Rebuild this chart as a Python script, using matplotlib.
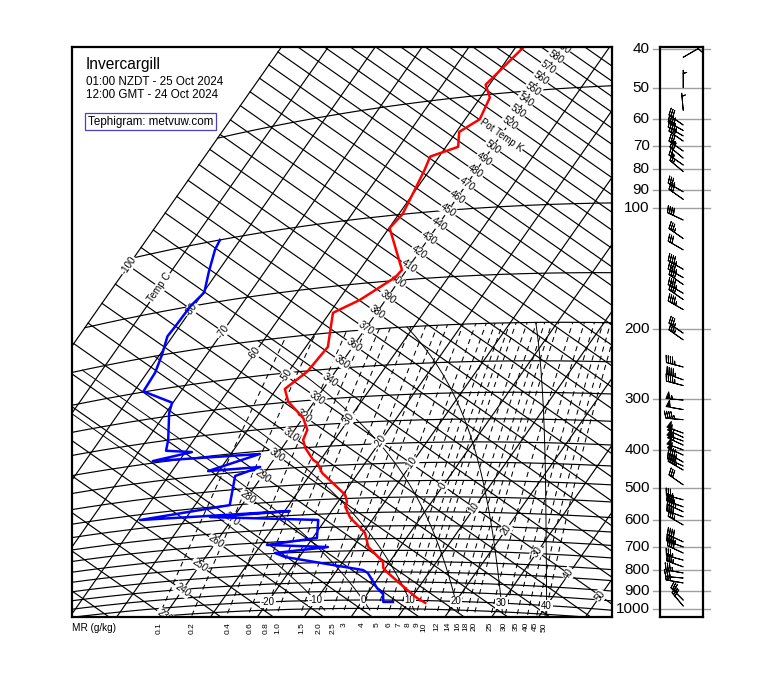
import numpy as np
import matplotlib
matplotlib.use('Agg')
import matplotlib.pyplot as plt
from matplotlib import transforms

plt.rcParams['font.family'] = ['Liberation Sans', 'DejaVu Sans']

# ---------------- sounding data ----------------
t_pres = [38, 47, 51, 58, 62, 68, 71, 77, 88, 100, 108, 141, 147, 166, 177, 218, 251, 276, 299,
          333, 359, 381, 400, 432, 440, 469, 538, 561, 578, 617, 676, 734, 802, 830, 850, 942, 986, 1013]
t_temp = [-48.3, -50.8, -48.0, -46.9, -49.4, -47.4, -51.9, -51.1, -50.1, -49.2, -49.9, -41.0, -41.3,
          -45.5, -49.3, -45.3, -46.0, -48.2, -45.6, -40.0, -37.3, -36.7, -35.1, -31.6, -30.3, -27.7,
          -19.5, -18.1, -17.7, -15.0, -9.6, -6.8, -1.4, -0.5, 0.9, 7.9, 11.2, 13.7]

d_pres = [100, 106, 122, 139, 150, 168, 178, 200, 223, 249, 276, 294, 349, 374, 385, 395, 407, 439,
          441, 460, 549, 569, 584, 585, 621, 691, 711, 731, 748, 768, 840, 855, 933, 966, 1011, 1011]
d_temp = [-84.3, -83.9, -81.9, -79.8, -80.7, -80.9, -81.1, -79.5, -78.3, -78.0, -70.2, -69.3, -65.5,
          -64.3, -58.6, -65.6, -43.8, -52.3, -41.8, -45.8, -42.6, -59.5, -28.9, -45.0, -21.5, -19.1,
          -28.7, -15.4, -25.8, -23.1, -4.5, -3.0, 1.2, 3.4, 4.6, 6.7]

w_pres = [42, 50, 57, 62, 64, 66, 68, 72, 75, 78, 81, 91, 95, 107, 119, 127, 142, 149, 155, 163,
          169, 179, 205, 213, 249, 268, 277, 301, 318, 337, 364, 373, 381, 390, 401, 413, 430, 440,
          450, 490, 534, 556, 572, 589, 617, 680, 700, 725, 755, 785, 813, 837, 861, 950, 983]
w_dir = [60, 0, 355, 305, 300, 300, 305, 305, 310, 305, 310, 300, 305, 295, 305, 300, 300, 300, 305,
         300, 305, 300, 305, 305, 285, 290, 285, 275, 280, 275, 290, 295, 290, 295, 290, 295, 300,
         295, 300, 305, 285, 290, 295, 290, 300, 295, 290, 295, 285, 290, 280, 275, 280, 315, 320]
w_spd = [10, 5, 5, 30, 40, 45, 40, 35, 30, 25, 25, 35, 30, 40, 35, 30, 45, 45, 40, 45, 40, 45, 35,
         35, 45, 45, 45, 55, 50, 45, 50, 55, 55, 55, 50, 50, 45, 45, 45, 30, 35, 40, 45, 40, 35, 40,
         45, 40, 35, 35, 35, 30, 30, 35, 30]

isotherms = list(range(-100, 60, 10))
isentropes = list(range(200, 610, 10))
isobars = list(range(1050, 99, -50)) + [50]
mr_vals = [0.1, 0.2, 0.4, 0.6, 0.8, 1.0, 1.5, 2.0, 2.5, 3, 4, 5, 6, 7, 8, 9, 10, 12, 14, 16, 18,
           20, 25, 30, 35, 40, 45, 50]
mr_lab = ['0.1', '0.2', '0.4', '0.6', '0.8', '1.0', '1.5', '2.0', '2.5', '3', '4', '5', '6', '7',
          '8', '9', '10', '12', '14', '16', '18', '20', '25', '30', '35', '40', '45', '50']
sat_adiabats = [-10, 0, 10, 20, 30, 40]
p_ticks = [40, 50, 60, 70, 80, 90, 100, 200, 300, 400, 500, 600, 700, 800, 900, 1000]

# ---------------- tephigram projection ----------------
ROT = np.deg2rad(35.0)
SCALE = 192.0
KAPPA = 0.2857

def theta_of(T, p):
    return (np.asarray(T, float) + 273.15) * (1000.0 / np.asarray(p, float)) ** KAPPA

def proj(T, theta):
    T = np.asarray(T, float)
    L = np.log(np.asarray(theta, float) / 273.15)
    X = np.cos(ROT) * T + np.sin(ROT) * SCALE * L
    Y = -np.sin(ROT) * T + np.cos(ROT) * SCALE * L
    return X, Y

def proj_p(T, p):
    return proj(T, theta_of(T, p))

def es(T):
    return 6.112 * np.exp(17.67 * T / (T + 243.5))

def td_from_w(w, p):
    e = w / 1000.0 * p / (0.622 + w / 1000.0)
    g = np.log(e / 6.112)
    return 243.5 * g / (17.67 - g)

def moist(T0, ptop=200.0, pbot=1060.0, dp=2.0):
    out = {}
    for sgn, pend in [(-1, ptop), (1, pbot)]:
        T, p = T0, 1000.0
        ps, Ts = [p], [T]
        while (p - pend) * sgn < 0:
            Tk = T + 273.15
            e = es(T)
            rs = 0.622 * e / (p - e)
            dTdp = (287.04 * Tk + 2.501e6 * rs) / (1004.0 + 2.501e6 ** 2 * rs * 0.622 / (287.04 * Tk ** 2)) / p
            T = T + sgn * dTdp * dp
            p = p + sgn * dp
            ps.append(p); Ts.append(T)
        out[sgn] = (ps, Ts)
    ps = out[1][0][::-1] + out[-1][0][1:]
    Ts = out[1][1][::-1] + out[-1][1][1:]
    return np.array(ps), np.array(Ts)

# ---------------- figure ----------------
W, H = 760, 690
fig = plt.figure(figsize=(W / 100, H / 100), dpi=100)

def fx(x):
    return x / W

def fy(y):
    return 1 - y / H

ax = fig.add_axes([fx(72), fy(617), 540 / W, 570 / H])
ax.set_xlim(-75.78, 64.84)
ax.set_ylim(-4.43, 144.01)
ax.set_xticks([]); ax.set_yticks([])
for s in ax.spines.values():
    s.set_linewidth(1.6)
    s.set_zorder(10)

lw = 0.85
for T in isotherms:
    th = np.linspace(190, 720, 60)
    X, Y = proj(np.full_like(th, T), th)
    ax.plot(X, Y, color='k', lw=lw, zorder=2)
for th in isentropes:
    T = np.linspace(-100, 70, 60)
    X, Y = proj(T, np.full_like(T, th))
    ax.plot(X, Y, color='k', lw=lw, zorder=2)
for p in isobars:
    T = np.linspace(-100, 70, 200)
    X, Y = proj_p(T, np.full_like(T, p))
    ax.plot(X, Y, color='k', lw=lw, zorder=2)

pp = np.linspace(1060, 200, 100)
for w in mr_vals:
    X, Y = proj_p(td_from_w(w, pp), pp)
    ax.plot(X, Y, color='k', lw=0.75, ls=(0, (5, 4)), zorder=2)

for tw in sat_adiabats:
    pm, Tm = moist(tw)
    X, Y = proj_p(Tm, pm)
    ax.plot(X, Y, color='k', lw=0.7, zorder=2)

# labels
lab_kw = dict(fontsize=7, ha='center', va='center', zorder=5,
              bbox=dict(boxstyle='square,pad=0.08', fc='white', ec='none'))
for T in isotherms:
    if T == -40:
        continue
    X, Y = proj(T, 330.0)
    txt = 'Temp C' if T == -90 else str(T)
    ax.text(float(X), float(Y), txt, rotation=55, **lab_kw)
for th in range(230, 600, 10):
    X, Y = proj(-40.0, th)
    txt = 'Pot Temp K' if th == 510 else str(th)
    ax.text(float(X), float(Y), txt, rotation=-35, clip_on=True, **lab_kw)
for T in range(-20, 50, 10):
    X, Y = proj_p(T, 1000.0)
    ax.text(float(X), float(Y), str(T), **lab_kw)

# profiles
X, Y = proj_p(t_temp, t_pres)
ax.plot(X, Y, color='#ff0000', lw=1.8, zorder=6)
X, Y = proj_p(d_temp, d_pres)
ax.plot(X, Y, color='#0000ff', lw=1.8, zorder=6)

# mixing ratio axis labels below the plot
bt = transforms.blended_transform_factory(ax.transData, fig.transFigure)
for w, lab in zip(mr_vals, mr_lab):
    X, Y = proj_p(td_from_w(w, 1000.0), 1000.0)
    ax.text(float(X), fy(622), lab, transform=bt, rotation=90, fontsize=6.0,
            ha='right', va='top', clip_on=False)
fig.text(fx(72), fy(628), 'MR (g/kg)', fontsize=7.2, ha='left', va='center')

# title block
fig.text(fx(86), fy(69), 'Invercargill', fontsize=11.2, ha='left', va='baseline')
fig.text(fx(86), fy(85), '01:00 NZDT - 25 Oct 2024', fontsize=8.4, ha='left', va='baseline')
fig.text(fx(86), fy(98.5), '12:00 GMT - 24 Oct 2024', fontsize=8.4, ha='left', va='baseline')
fig.text(fx(88), fy(124.5), 'Tephigram: metvuw.com', fontsize=8.4, ha='left', va='baseline',
         bbox=dict(boxstyle='square,pad=0.22', fc='white', ec='#4b3fc4', lw=0.9))

# ---------------- wind barb panel ----------------
axb = fig.add_axes([fx(660), fy(617), 43 / W, 570 / H])
axb.set_yscale('log')
axb.set_ylim(1047, 39.6)
axb.set_xlim(0, 1)
axb.set_xticks([]); axb.set_yticks([])
axb.yaxis.set_minor_locator(matplotlib.ticker.NullLocator())
for s in axb.spines.values():
    s.set_linewidth(1.6)
yt = axb.get_yaxis_transform()
for p in p_ticks:
    axb.plot([-0.163, 1.163], [p, p], transform=yt, color='#a0a0a0', lw=1.0, clip_on=False, zorder=1)
    axb.text(-0.24, p, str(p), transform=yt, fontsize=11, ha='right', va='center')

wd = np.deg2rad(np.array(w_dir, float))
ws = np.array(w_spd, float)
u = -ws * np.sin(wd)
v = -ws * np.cos(wd)
axb.barbs(np.full(len(w_pres), 0.54), np.array(w_pres, float), u, v, length=5.0,
          lw=0.7, color='k', zorder=3, clip_on=False)

fig.savefig('out.png', dpi=100)
